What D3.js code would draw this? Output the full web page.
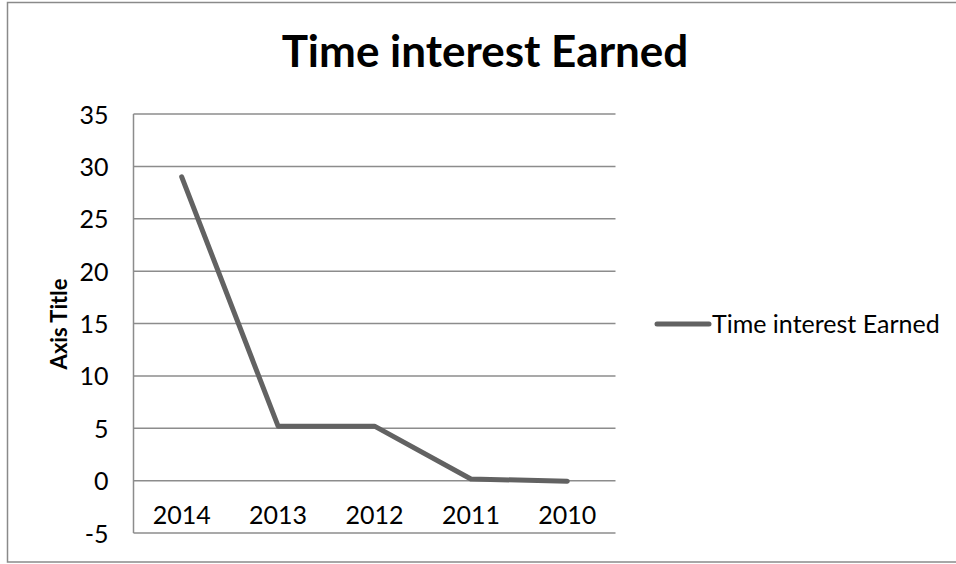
<!DOCTYPE html>
<html><head><meta charset="utf-8">
<script src="https://cdn.jsdelivr.net/npm/d3@7"></script>
<style>html,body{margin:0;padding:0;background:#fff;overflow:hidden}</style>
</head><body>
<svg id="c" width="956" height="564"></svg>
<script>
const title = "Time interest Earned";
const seriesName = "Time interest Earned";
const categories = ["2014", "2013", "2012", "2011", "2010"];
const values = [29.0, 5.2, 5.2, 0.15, -0.05];
const yTicks = [-5, 0, 5, 10, 15, 20, 25, 30, 35];
const yAxisTitle = "Axis Title";

const font = "Lato, 'Open Sans', sans-serif";
const svg = d3.select("#c");

// outer chart border
svg.append("rect").attr("x", 7.5).attr("y", 2.5).attr("width", 960).attr("height", 559.5)
  .attr("fill", "none").attr("stroke", "#8a8a8a").attr("stroke-width", 1.5);

const plot = {left: 133.5, right: 615.5, top: 114, bottom: 533};

const x = d3.scaleBand().domain(categories).range([plot.left, plot.right]);
const y = d3.scaleLinear().domain([-5, 35]).range([plot.bottom, plot.top]);

// gridlines
svg.append("g").selectAll("line").data(yTicks).join("line")
  .attr("x1", plot.left).attr("x2", plot.right)
  .attr("y1", d => y(d)).attr("y2", d => y(d))
  .attr("stroke", "#8c8c8c").attr("stroke-width", 1.5);

// y axis line
svg.append("line").attr("x1", plot.left).attr("x2", plot.left)
  .attr("y1", y(35)).attr("y2", y(-5)).attr("stroke", "#8c8c8c").attr("stroke-width", 1.5);

// y tick labels
const yAxis = d3.axisLeft(y).tickValues(yTicks).tickSize(0).tickPadding(25).tickFormat(d => String(d));
const gy = svg.append("g").attr("transform", `translate(${plot.left},0)`).call(yAxis);
gy.select(".domain").remove();
gy.selectAll("text").attr("font-family", font).attr("font-size", 25).attr("fill", "#000")
  .attr("dy", "0.36em");

// x category labels (placed near bottom, inside plot)
const xAxis = d3.axisBottom(x).tickSize(0).tickPadding(0);
const gx = svg.append("g").attr("transform", `translate(0,${y(-3.3)})`).call(xAxis);
gx.select(".domain").remove();
gx.selectAll("text").attr("font-family", font).attr("font-size", 25).attr("fill", "#000")
  .attr("dy", "0.36em").attr("y", 0);

// line
const line = d3.line().x((d, i) => x(categories[i]) + x.bandwidth() / 2).y(d => y(d));
svg.append("path").datum(values).attr("d", line).attr("fill", "none")
  .attr("stroke", "#626262").attr("stroke-width", 5).attr("stroke-linecap", "round")
  .attr("stroke-linejoin", "round");

// title
svg.append("text").attr("x", 485).attr("y", 67).attr("text-anchor", "middle")
  .attr("font-family", font).attr("font-weight", "bold").attr("font-size", 44)
  .attr("fill", "#000").text(title);

// y axis title
svg.append("text").attr("transform", `translate(67,324) rotate(-90)`).attr("text-anchor", "middle")
  .attr("font-family", font).attr("font-weight", "bold").attr("font-size", 22)
  .attr("fill", "#000").text(yAxisTitle);

// legend
const lg = svg.append("g");
lg.append("line").attr("x1", 657).attr("x2", 709).attr("y1", 324).attr("y2", 324)
  .attr("stroke", "#626262").attr("stroke-width", 5).attr("stroke-linecap", "round");
lg.append("text").attr("x", 712).attr("y", 324).attr("dy", "0.36em")
  .attr("font-family", font).attr("font-size", 25).attr("fill", "#000").text(seriesName);
</script>
</body></html>
